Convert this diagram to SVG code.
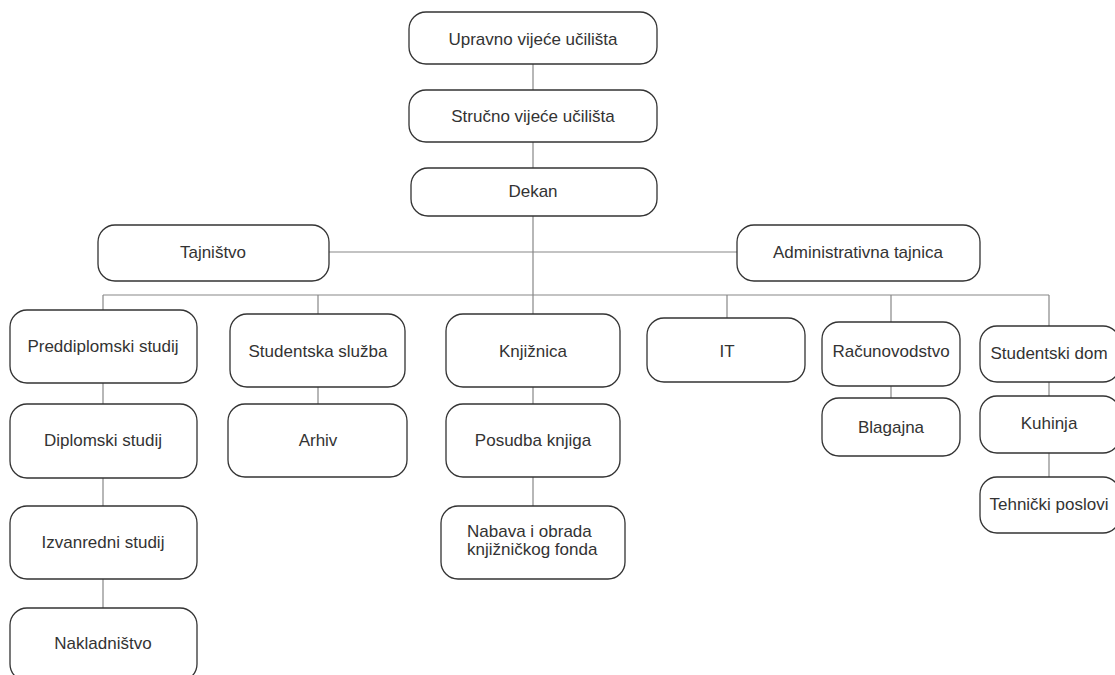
<svg xmlns="http://www.w3.org/2000/svg" width="1115" height="675" viewBox="0 0 1115 675">
<style>
.n rect{fill:#fff;stroke:#333;stroke-width:1.3}
.n text{font-family:"Liberation Sans",Arial,sans-serif;font-size:17px;fill:#333;text-anchor:middle;dominant-baseline:central}
.n text.l{text-anchor:start}
.c path{fill:none;stroke:#888;stroke-width:1.2}
</style>
<rect width="1115" height="675" fill="#fff"/>
<g class="c">
<path d="M533 64V90M533 142V168M533 216V314M329 252H737M103 295H1049M103 295V310M318 295V314M727 295V318M891 295V322M1049 295V326M103 383V404M103 478V506M103 579V608M318 387V404M533 387V404M533 477V506M891 386V398M1049 382V396M1049 453V477"/>
</g>
<g class="n">
<g id="upravno"><rect x="409" y="12" width="248" height="52" rx="17"/><text x="533" y="39">Upravno vijeće učilišta</text></g>
<g id="strucno"><rect x="409" y="90" width="248" height="52" rx="17"/><text x="533" y="116">Stručno vijeće učilišta</text></g>
<g id="dekan"><rect x="411" y="168" width="246" height="48" rx="17"/><text x="533" y="191">Dekan</text></g>
<g id="tajnistvo"><rect x="98" y="225" width="231" height="56" rx="17"/><text x="213" y="252">Tajništvo</text></g>
<g id="admin"><rect x="737" y="225" width="243" height="56" rx="17"/><text x="858" y="252">Administrativna tajnica</text></g>
<g id="preddiplomski"><rect x="10" y="310" width="187" height="73" rx="17"/><text x="103" y="346">Preddiplomski studij</text></g>
<g id="studsluzba"><rect x="230" y="314" width="175" height="73" rx="17"/><text x="318" y="351">Studentska služba</text></g>
<g id="knjiznica"><rect x="446" y="314" width="174" height="73" rx="17"/><text x="533" y="351">Knjižnica</text></g>
<g id="it"><rect x="647" y="318" width="158" height="64" rx="17"/><text x="727" y="351">IT</text></g>
<g id="racunovodstvo"><rect x="822" y="322" width="138" height="64" rx="17"/><text x="891" y="351">Računovodstvo</text></g>
<g id="studdom"><rect x="980" y="326" width="140" height="56" rx="17"/><text x="1049" y="353">Studentski dom</text></g>
<g id="diplomski"><rect x="10" y="404" width="187" height="74" rx="17"/><text x="103" y="440">Diplomski studij</text></g>
<g id="arhiv"><rect x="228" y="404" width="179" height="73" rx="17"/><text x="318" y="440">Arhiv</text></g>
<g id="posudba"><rect x="446" y="404" width="174" height="73" rx="17"/><text x="533" y="440">Posudba knjiga</text></g>
<g id="blagajna"><rect x="822" y="398" width="138" height="58" rx="17"/><text x="891" y="427">Blagajna</text></g>
<g id="kuhinja"><rect x="980" y="396" width="140" height="57" rx="17"/><text x="1049" y="423">Kuhinja</text></g>
<g id="izvanredni"><rect x="10" y="506" width="187" height="73" rx="17"/><text x="103" y="542">Izvanredni studij</text></g>
<g id="nabava"><rect x="441" y="506" width="184" height="73" rx="17"/><text class="l" x="467" y="531">Nabava i obrada</text><text class="l" x="467" y="549">knjižničkog fonda</text></g>
<g id="tehnicki"><rect x="980" y="477" width="140" height="56" rx="17"/><text x="1049" y="504">Tehnički poslovi</text></g>
<g id="nakladnistvo"><rect x="10" y="608" width="187" height="73" rx="17"/><text x="103" y="643">Nakladništvo</text></g>
</g>
</svg>
